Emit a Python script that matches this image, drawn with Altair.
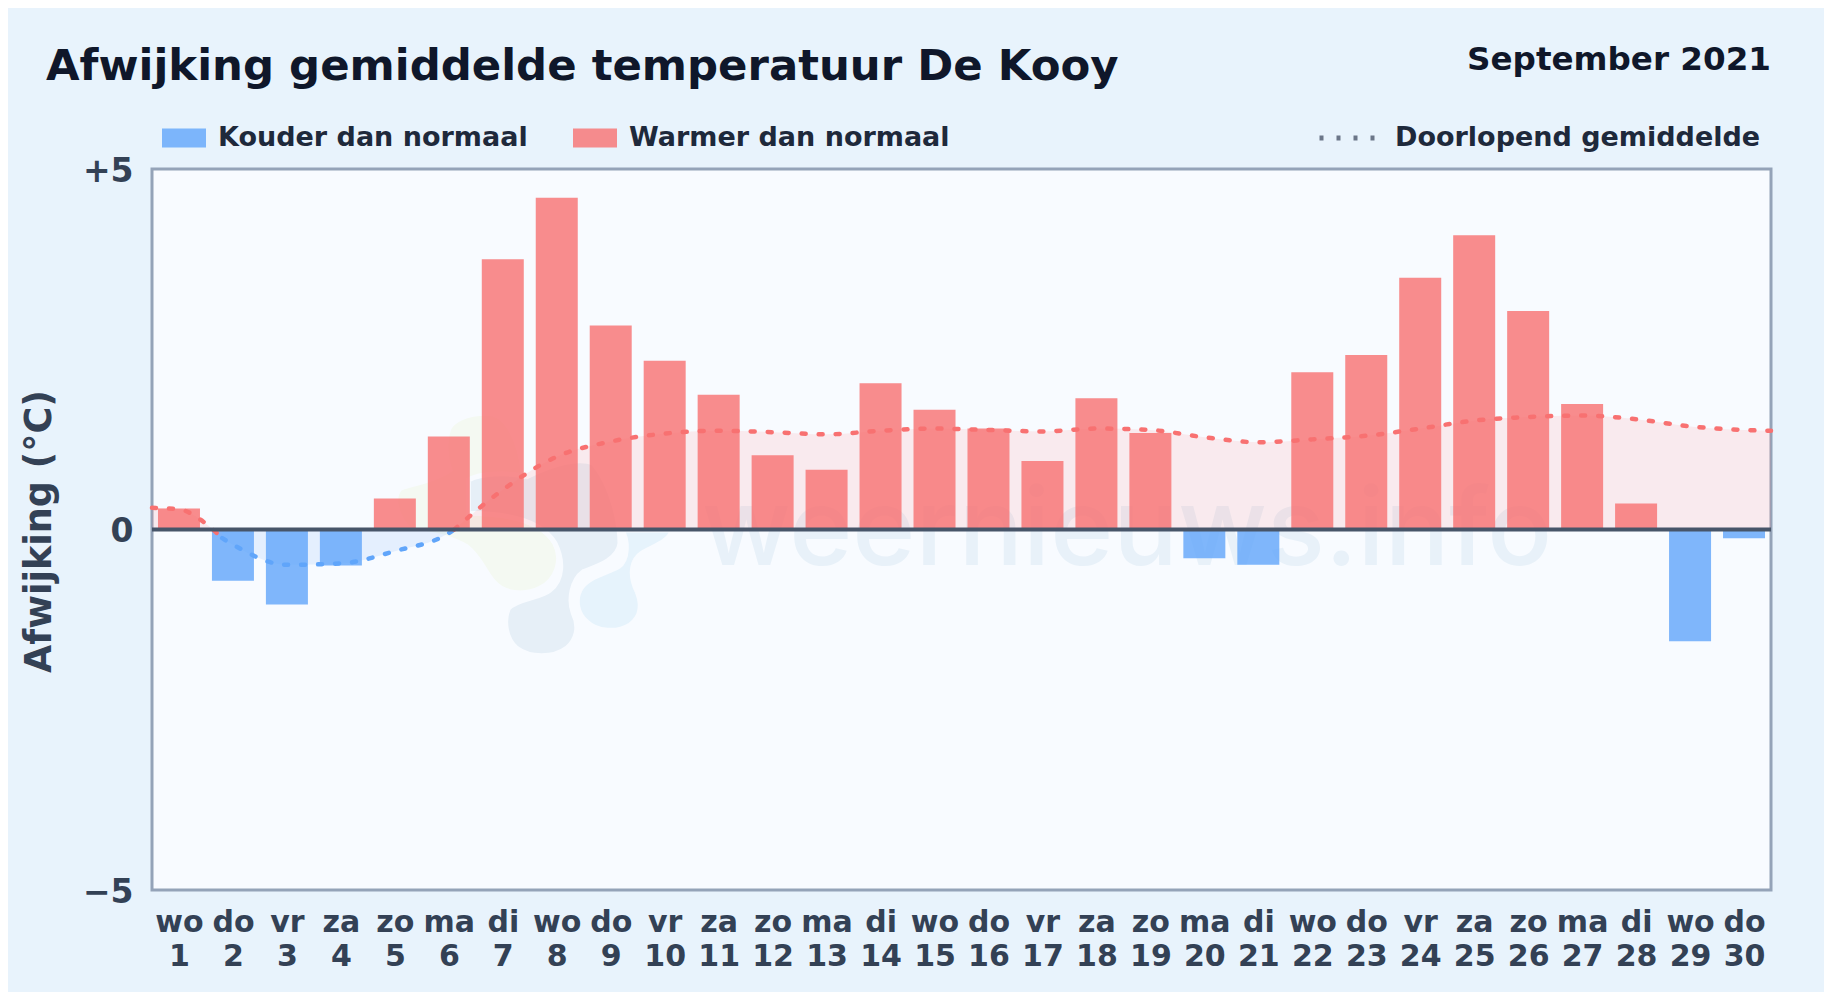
import altair as alt
import pandas as pd

FONT = "DejaVu Sans"

days = list(range(1, 31))
weekdays = ["wo", "do", "vr", "za", "zo", "ma", "di", "wo", "do", "vr", "za", "zo", "ma", "di", "wo",
            "do", "vr", "za", "zo", "ma", "di", "wo", "do", "vr", "za", "zo", "ma", "di", "wo", "do"]
deviation = [0.29, -0.71, -1.04, -0.5, 0.43, 1.29, 3.75, 4.6, 2.83, 2.34, 1.87, 1.03, 0.83, 2.03, 1.66,
             1.4, 0.95, 1.82, 1.34, -0.4, -0.49, 2.18, 2.42, 3.49, 4.08, 3.03, 1.74, 0.36, -1.55, -0.12]
labels = ["Kouder dan normaal", "Warmer dan normaal"]

warm_a_x = [0.5, 1.0, 1.5, 1.8]
warm_a_y = [0.30, 0.28, 0.08, -0.12]
cold_x = [1.8, 2, 3, 4, 5, 6, 6.1]
cold_y = [-0.12, -0.21, -0.49, -0.47, -0.3, -0.05, 0.0]
warm_b_x = [6.1, 7, 8, 9, 10, 11, 12, 13, 14, 15, 16, 17, 18, 19, 20, 21, 22, 23, 24, 25, 26, 27, 28, 29, 30, 30.5]
warm_b_y = [0.0, 0.55, 1.01, 1.22, 1.33, 1.37, 1.35, 1.32, 1.37, 1.4, 1.38, 1.36, 1.4, 1.38, 1.28, 1.21, 1.25,
            1.3, 1.4, 1.51, 1.56, 1.58, 1.53, 1.43, 1.38, 1.37]

bars = pd.DataFrame({"dag": days, "afw": deviation,
                     "soort": [labels[0] if v < 0 else labels[1] for v in deviation]})
avg = pd.concat([
    pd.DataFrame({"dag": warm_a_x, "gem": warm_a_y, "seg": "a", "kleur": "warm"}),
    pd.DataFrame({"dag": cold_x, "gem": cold_y, "seg": "b", "kleur": "koud"}),
    pd.DataFrame({"dag": warm_b_x, "gem": warm_b_y, "seg": "c", "kleur": "warm"}),
])
avg["naam"] = "Doorlopend gemiddelde"

RED, BLUE = "#f87171", "#60a5fa"
x_scale = alt.Scale(domain=[0.5, 30.5], nice=False, zero=False, padding=0)
y_scale = alt.Scale(domain=[-5, 5], nice=False)
kleur_line = alt.Scale(domain=["warm", "koud"], range=[RED, BLUE])
kleur_fill = alt.Scale(domain=["warm", "koud"], range=["#fc7c7c", BLUE])

label_expr = "[" + str(weekdays) + "[datum.value - 1], format(datum.value, 'd')]"
x_enc = alt.X("dag:Q", scale=x_scale, title=None,
              axis=alt.Axis(values=days, labelExpr=label_expr, domain=False, ticks=False, grid=False,
                            labelFont=FONT, labelFontSize=30, labelFontWeight="bold", labelColor="#334155",
                            labelPadding=17, labelLineHeight=34, labelOverlap=False, labelFlush=False,
                            labelBaseline="top", labelAngle=0))
y_enc = alt.Y("afw:Q", scale=y_scale,
              axis=alt.Axis(values=[-5, 0, 5],
                            labelExpr="datum.value > 0 ? '+5' : (datum.value < 0 ? '\u22125' : '0')",
                            domain=False, ticks=False, grid=False, labelPadding=19, labelOffset=2,
                            labelFont=FONT, labelFontSize=33, labelFontWeight="bold", labelColor="#334155",
                            title="Afwijking (\u00b0C)", titleFont=FONT, titleFontSize=36.5, titleFontWeight="bold",
                            titleColor="#334155", titleX=-102, titleY=362, titleAngle=270,
                            titleBaseline="alphabetic", titleAlign="center"))


def blob(path, color):
    # size 4/9 scales the path units to one third of a pixel
    return alt.Chart(pd.DataFrame({"a": [0]})).mark_point(
        shape=path, size=4 / 9, filled=True, opacity=1, fill=color, stroke="#f8fbff", strokeWidth=5
    ).encode(x=alt.value(228), y=alt.value(231))


# Logo watermark behind the bars, drawn as three soft blobs
logo_y = blob("M205,90 C215,60 260,40 320,40 C380,40 420,120 430,225 L265,240 L265,340 C400,340 490,370 525,430 "
              "C550,480 530,540 480,565 C430,590 370,580 340,545 C310,510 300,470 260,440 C210,410 150,400 100,395 "
              "C60,370 30,300 60,265 C100,250 170,240 210,210 C195,170 195,120 205,90 Z", "#f4f9f2")
logo_b = blob("M265,240 C300,220 380,215 440,230 C520,190 600,170 640,190 C700,260 720,380 720,430 C715,480 650,500 610,515 "
              "C575,540 565,600 580,640 C600,680 590,720 560,745 C520,775 450,775 410,745 C375,715 370,660 385,625 "
              "C410,595 480,595 510,570 C550,540 550,480 525,430 C490,370 400,340 265,340 Z", "#e6eff7")
logo_l = blob("M725,390 L875,390 C875,420 820,440 785,460 C755,480 750,520 765,560 C790,610 785,650 750,675 "
              "C710,700 650,695 620,665 C590,640 585,600 600,570 C620,530 680,520 715,500 C745,480 745,420 725,390 Z",
              "#e6f3fc")
wm = alt.Chart(pd.DataFrame({"t": ["weernieuws.info"]})).mark_text(
    font="Inter", fontSize=107.5, fontWeight=500, color="#e8f1f9", align="center", baseline="alphabetic"
).encode(text="t:N", x=alt.value(975), y=alt.value(396))

area = alt.Chart(avg).mark_area(opacity=0.13, interpolate="monotone").encode(
    x=alt.X("dag:Q", scale=x_scale), y=alt.Y("gem:Q", scale=y_scale), y2=alt.datum(0),
    fill=alt.Fill("kleur:N", scale=kleur_fill, legend=None), detail="seg:N")

bar = alt.Chart(bars).mark_bar(size=42, opacity=0.8).encode(
    x=x_enc, y=y_enc, y2=alt.datum(0),
    color=alt.Color("soort:N", scale=alt.Scale(domain=labels, range=[BLUE, RED]),
                    legend=alt.Legend(title=None, orient="none", legendX=10, legendY=-53, direction="horizontal",
                                      columns=2, columnPadding=45,
                                      symbolType="M-1,-0.43H1V0.43H-1Z", symbolSize=1936, symbolStrokeWidth=0,
                                      labelFont=FONT, labelFontSize=27, labelFontWeight="bold",
                                      labelColor="#1e293b", labelOffset=12, labelLimit=400)))

line = alt.Chart(avg).mark_line(interpolate="monotone", strokeWidth=4.5, strokeCap="round").encode(
    x=alt.X("dag:Q", scale=x_scale), y=alt.Y("gem:Q", scale=y_scale),
    stroke=alt.Stroke("kleur:N", scale=kleur_line, legend=None), detail="seg:N",
    strokeDash=alt.StrokeDash("naam:N", scale=alt.Scale(domain=["Doorlopend gemiddelde"], range=[[4, 13]]),
                              legend=alt.Legend(title=None, orient="none", legendX=1165, legendY=-61,
                                                symbolType="stroke", symbolSize=3025, symbolStrokeWidth=5,
                                                symbolStrokeColor="#6b7688",
                                                labelFont=FONT, labelFontSize=27, labelFontWeight="bold",
                                                labelColor="#1e293b", labelOffset=18, labelLimit=500)))

zero = alt.Chart(pd.DataFrame({"n": [0]})).mark_rule(color="#475569", strokeWidth=4).encode(
    y=alt.Y("n:Q", scale=y_scale))

head = alt.Chart(pd.DataFrame({"t": ["Afwijking gemiddelde temperatuur De Kooy"]})).mark_text(
    font=FONT, fontSize=43.4, fontWeight="bold", color="#0f172a", align="left", baseline="alphabetic"
).encode(text="t:N", x=alt.value(-106), y=alt.value(-89))

month = alt.Chart(pd.DataFrame({"t": ["September 2021"]})).mark_text(
    font=FONT, fontSize=32.6, fontWeight="bold", color="#0f172a", align="right", baseline="alphabetic"
).encode(text="t:N", x=alt.value(1619), y=alt.value(-99))

chart = alt.layer(logo_y, logo_b, logo_l, wm, area, bar, line, zero, head, month).resolve_scale(
    color="independent"
).properties(
    width=1619, height=721,
    autosize=alt.AutoSizeParams(type="none"),
    padding={"left": 144, "top": 161, "right": 53, "bottom": 102},
    background="#e8f3fc",
).configure_view(fill="#f8fbff", stroke="#94a3b8", strokeWidth=3)

chart.save("out.html", embed_options={"renderer": "svg", "actions": False})
